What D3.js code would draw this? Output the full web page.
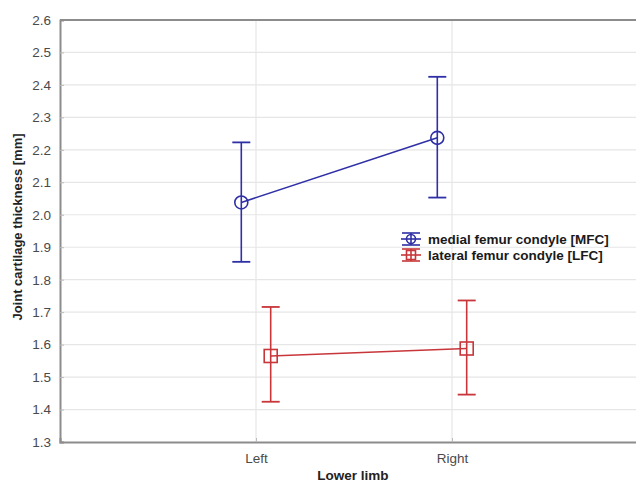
<!DOCTYPE html>
<html>
<head>
<meta charset="utf-8">
<script src="https://cdn.jsdelivr.net/npm/d3@7"></script>
<style>
  body { margin: 0; background: #fff; }
  text { font-family: "Liberation Sans", Arial, sans-serif; }
</style>
</head>
<body>
<svg id="chart"></svg>
<script>
// data
var limbs = ["Left", "Right"];
var seriesNames = ["medial femur condyle [MFC]", "lateral femur condyle [LFC]"];
var mfcMean = [2.038, 2.237];
var mfcLow = [1.855, 2.053];
var mfcHigh = [2.223, 2.425];
var lfcMean = [1.565, 1.588];
var lfcLow = [1.424, 1.446];
var lfcHigh = [1.716, 1.736];
var yTicks = [1.3, 1.4, 1.5, 1.6, 1.7, 1.8, 1.9, 2.0, 2.1, 2.2, 2.3, 2.4, 2.5, 2.6];

var width = 636, height = 483;
var margins = { top: 20, left: 60, bottom: 42 };
var blue = "#2f2fa6", red = "#c8363a";

var svg = d3.select("#chart").attr("width", width).attr("height", height);

var yScale = d3.scaleLinear().domain([1.3, 2.6]).range([height - margins.bottom + 1, margins.top]);
// category positions 1 and 2 on a 0..3 slot scale
var xScale = d3.scaleLinear().domain([0, 3]).range([margins.left, 648]);

var series = [
  { name: seriesNames[0], mean: mfcMean, low: mfcLow, high: mfcHigh, color: blue, shape: "circle", shift: -0.075 },
  { name: seriesNames[1], mean: lfcMean, low: lfcLow, high: lfcHigh, color: red, shape: "square", shift: 0.075 }
];

// grid
var grid = svg.append("g");
grid.selectAll("line.h").data(yTicks.slice(1, -1)).enter().append("line")
  .attr("x1", margins.left).attr("x2", width)
  .attr("y1", function(d){ return yScale(d); }).attr("y2", function(d){ return yScale(d); })
  .attr("stroke", "#e6e6e6").attr("stroke-width", 1.2);
grid.selectAll("line.v").data(limbs).enter().append("line")
  .attr("x1", function(d, i){ return xScale(i + 1); }).attr("x2", function(d, i){ return xScale(i + 1); })
  .attr("y1", margins.top).attr("y2", yScale(1.3))
  .attr("stroke", "#e6e6e6").attr("stroke-width", 1.2);

// axes
var yAxis = d3.axisLeft(yScale).tickValues(yTicks).tickSize(-4).tickPadding(9)
  .tickFormat(d3.format(".1f"));
var gy = svg.append("g").attr("transform", "translate(" + margins.left + ",0)").call(yAxis);
gy.select(".domain").attr("stroke", "#8c8c8c").attr("stroke-width", 2);
gy.selectAll(".tick line").attr("stroke", "#bbb");
gy.selectAll(".tick text").attr("font-size", 13.5).attr("fill", "#4a4a4a");

var xAxis = d3.axisBottom(xScale).tickValues([1, 2]).tickSize(-4).tickPadding(11)
  .tickFormat(function(d){ return limbs[d - 1]; });
var gx = svg.append("g").attr("transform", "translate(0," + yScale(1.3) + ")").call(xAxis);
gx.select(".domain").attr("stroke", "#8c8c8c").attr("stroke-width", 2);
gx.selectAll(".tick line").attr("stroke", "#bbb");
gx.selectAll(".tick text").attr("font-size", 13.5).attr("fill", "#4a4a4a");

// top frame line
svg.append("line").attr("x1", margins.left).attr("x2", width)
  .attr("y1", yScale(2.6)).attr("y2", yScale(2.6))
  .attr("stroke", "#8c8c8c").attr("stroke-width", 2);

// axis titles
svg.append("text").text("Joint cartilage thickness [mm]")
  .attr("transform", "translate(22," + 227 + ") rotate(-90)")
  .attr("text-anchor", "middle").attr("font-size", 13).attr("font-weight", "bold").attr("fill", "#222");
svg.append("text").text("Lower limb")
  .attr("x", 353).attr("y", 480)
  .attr("text-anchor", "middle").attr("font-size", 13.5).attr("font-weight", "bold").attr("fill", "#222");

// series
var capW = 9;
series.forEach(function(s){
  var g = svg.append("g");
  var xs = function(i){ return xScale(i + 1 + s.shift); };
  var line = d3.line().x(function(d, i){ return xs(i); }).y(function(d){ return yScale(d); });
  g.append("path").datum(s.mean).attr("d", line)
    .attr("fill", "none").attr("stroke", s.color).attr("stroke-width", 1.6);
  s.mean.forEach(function(m, i){
    var x = xs(i);
    g.append("line").attr("x1", x).attr("x2", x)
      .attr("y1", yScale(s.low[i])).attr("y2", yScale(s.high[i]))
      .attr("stroke", s.color).attr("stroke-width", 1.6);
    [s.low[i], s.high[i]].forEach(function(v){
      g.append("line").attr("x1", x - capW).attr("x2", x + capW)
        .attr("y1", yScale(v)).attr("y2", yScale(v))
        .attr("stroke", s.color).attr("stroke-width", 1.8);
    });
    if (s.shape === "circle") {
      g.append("circle").attr("cx", x).attr("cy", yScale(m)).attr("r", 6.5)
        .attr("fill", "none").attr("stroke", s.color).attr("stroke-width", 1.6);
    } else {
      g.append("rect").attr("x", x - 6.5).attr("y", yScale(m) - 6.5)
        .attr("width", 13).attr("height", 13)
        .attr("fill", "none").attr("stroke", s.color).attr("stroke-width", 1.6);
    }
  });
});

// legend
var legend = svg.append("g").attr("transform", "translate(411,239)");
series.forEach(function(s, i){
  var row = legend.append("g").attr("transform", "translate(0," + (i * 16) + ")");
  row.append("line").attr("x1", -10).attr("x2", 10).attr("stroke", s.color).attr("stroke-width", 1.6);
  row.append("line").attr("x1", -9).attr("x2", 9).attr("y1", -6).attr("y2", -6).attr("stroke", s.color).attr("stroke-width", 1.6);
  row.append("line").attr("x1", -9).attr("x2", 9).attr("y1", 6).attr("y2", 6).attr("stroke", s.color).attr("stroke-width", 1.6);
  row.append("line").attr("y1", -6).attr("y2", 6).attr("stroke", s.color).attr("stroke-width", 1.6);
  if (s.shape === "circle") {
    row.append("circle").attr("r", 4.5).attr("fill", "none").attr("stroke", s.color).attr("stroke-width", 1.6);
  } else {
    row.append("rect").attr("x", -4.5).attr("y", -4.5).attr("width", 9).attr("height", 9)
      .attr("fill", "none").attr("stroke", s.color).attr("stroke-width", 1.6);
  }
  row.append("text").text(s.name).attr("x", 17).attr("y", 5)
    .attr("font-size", 13.5).attr("font-weight", "bold").attr("fill", "#1a1a1a");
});
</script>
</body>
</html>
